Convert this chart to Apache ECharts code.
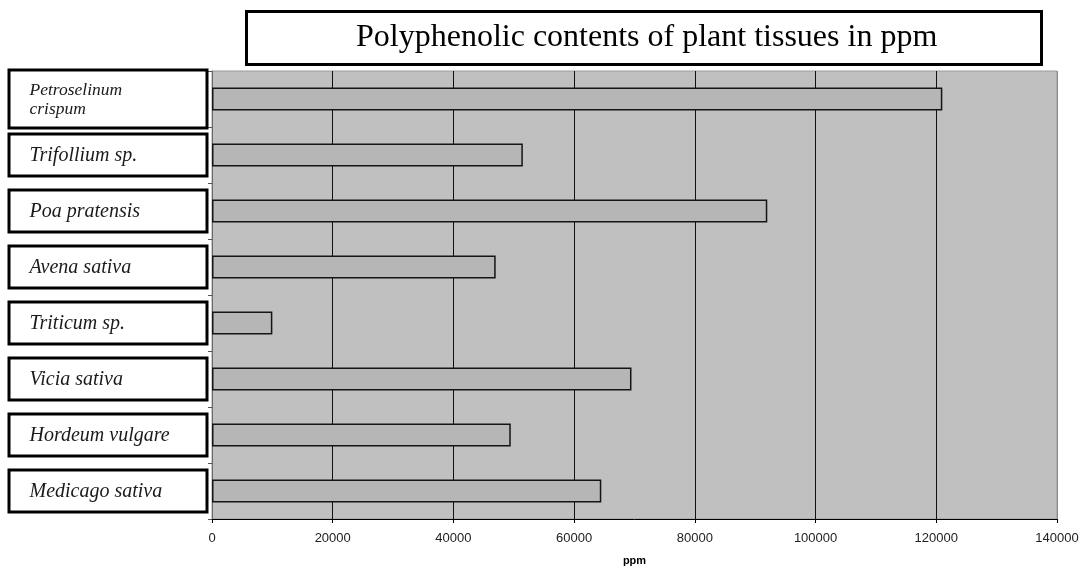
<!DOCTYPE html>
<html>
<head>
<meta charset="utf-8">
<style>
  html, body { margin: 0; padding: 0; background: #fff; }
  #chart { width: 1080px; height: 567px; }
</style>
<script src="https://cdn.jsdelivr.net/npm/echarts@6/dist/echarts.min.js"></script>
</head>
<body>
<div id="chart"></div>
<script>
// Plant tissues, listed top to bottom
const species = [
  'Petroselinum crispum',
  'Trifollium sp.',
  'Poa pratensis',
  'Avena sativa',
  'Triticum sp.',
  'Vicia sativa',
  'Hordeum vulgare',
  'Medicago sativa'
];
// Polyphenolic content of each tissue (ppm)
const polyphenols = [121000, 51500, 92000, 47000, 10000, 69500, 49500, 64500];
// Value axis range
const axisMin = 0;
const axisMax = 140000;
const axisStep = 20000;
const chartTitle = 'Polyphenolic contents of plant tissues in ppm';
const unitName = 'ppm';

const chart = echarts.init(document.getElementById('chart'), null, { renderer: 'canvas' });

// Inner grid lines are dark; the two edge lines stay light like the frame
const nLines = (axisMax - axisMin) / axisStep + 1;
const splitColors = [];
for (let i = 0; i < nLines; i++) {
  splitColors.push(i === 0 || i === nLines - 1 ? '#8a8a8a' : '#111');
}

chart.setOption({
  animation: false,
  backgroundColor: '#ffffff',
  title: {
    text: chartTitle,
    left: 246,
    top: 11,
    padding: [10, 104, 10, 110],
    backgroundColor: '#ffffff',
    borderColor: '#000',
    borderWidth: 3,
    textStyle: {
      fontFamily: 'Liberation Serif',
      fontWeight: 'normal',
      fontSize: 32,
      color: '#000',
      lineHeight: 34
    }
  },
  grid: {
    left: 212,
    right: 23,
    top: 71,
    bottom: 48,
    outerBoundsMode: 'none',
    containLabel: false,
    show: true,
    backgroundColor: '#c0c0c0',
    borderColor: '#9a9a9a',
    borderWidth: 1
  },
  xAxis: {
    type: 'value',
    min: axisMin,
    max: axisMax,
    interval: axisStep,
    name: unitName,
    nameLocation: 'middle',
    nameGap: 36,
    nameTextStyle: {
      fontFamily: 'Liberation Sans',
      fontWeight: 'bold',
      fontSize: 11,
      color: '#000'
    },
    axisLine: { show: true, lineStyle: { color: '#000', width: 1 } },
    axisTick: { show: true, length: 4, lineStyle: { color: '#000' } },
    axisLabel: {
      margin: 13,
      fontFamily: 'Liberation Sans',
      fontSize: 13,
      color: '#222',
      formatter: function (v) { return String(v); }
    },
    splitLine: { show: true, lineStyle: { color: splitColors, width: 1 } }
  },
  yAxis: {
    type: 'category',
    data: species,
    inverse: true,
    axisLine: { show: true, lineStyle: { color: '#6a6a6a', width: 1 } },
    axisTick: { show: true, length: 4, lineStyle: { color: '#555' } },
    axisLabel: {
      interval: 0,
      align: 'left',
      margin: 201.5,
      width: 176,
      overflow: 'none',
      padding: [9, 0, 8, 19],
      backgroundColor: '#ffffff',
      borderColor: '#000',
      borderWidth: 3,
      fontFamily: 'Liberation Serif',
      fontStyle: 'italic',
      fontSize: 20,
      lineHeight: 22,
      color: '#1a1a1a',
      formatter: function (v) {
        const words = v.split(' ');
        if (v.length > 18) {
          return '{s|' + words[0] + '}\n{s|' + words.slice(1).join(' ') + '}';
        }
        return '{n|' + v + '}';
      },
      rich: {
        n: {
          fontFamily: 'Liberation Serif',
          fontStyle: 'italic',
          fontSize: 20,
          lineHeight: 22,
          color: '#1a1a1a'
        },
        s: {
          fontFamily: 'Liberation Serif',
          fontStyle: 'italic',
          fontSize: 17.5,
          lineHeight: 19,
          color: '#1a1a1a'
        }
      }
    },
    splitLine: { show: false }
  },
  series: [{
    type: 'bar',
    data: polyphenols,
    barWidth: 23,
    itemStyle: {
      color: '#b6b6b6',
      borderColor: '#141414',
      borderWidth: 1.5
    }
  }]
});
</script>
</body>
</html>
